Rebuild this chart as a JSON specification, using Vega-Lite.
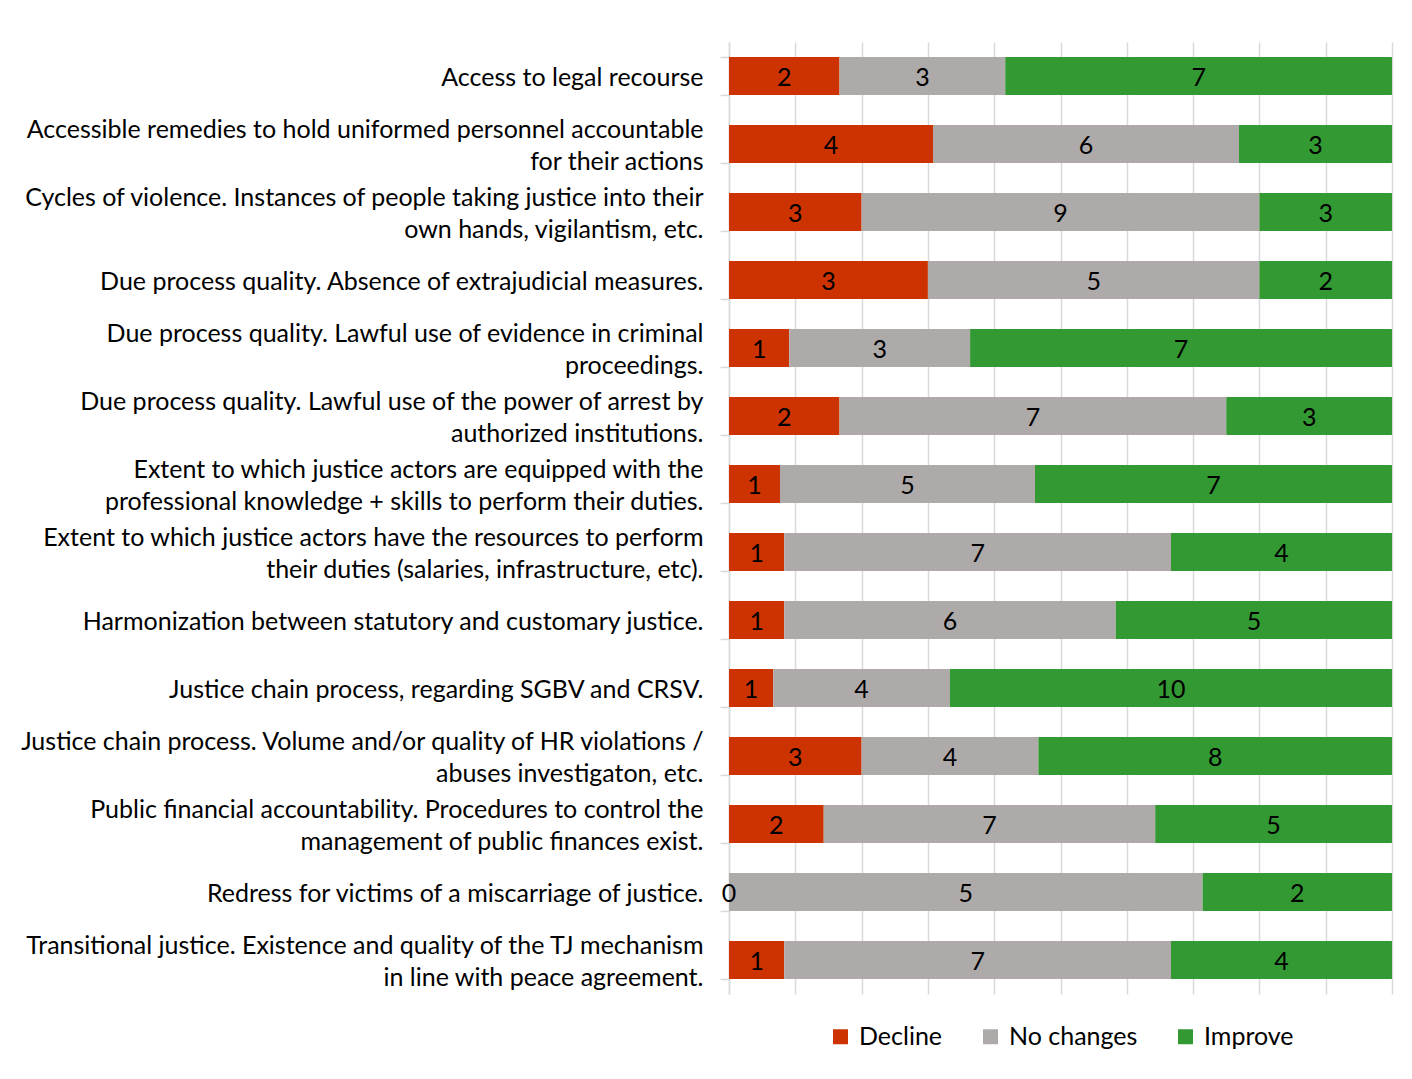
{
  "$schema": "https://vega.github.io/schema/vega-lite/v6.json",
  "width": 663,
  "height": 952,
  "autosize": {"type": "none"},
  "padding": {"left": 729, "top": 42, "right": 20, "bottom": 85},
  "background": "white",
  "datasets": {
    "statusOrder": [
      {"status": "Decline", "rank": 1},
      {"status": "No changes", "rank": 2},
      {"status": "Improve", "rank": 3}
    ],
    "responses": [
      {"category": "Access to legal recourse", "status": "Decline", "count": 2},
      {"category": "Access to legal recourse", "status": "No changes", "count": 3},
      {"category": "Access to legal recourse", "status": "Improve", "count": 7},
      {"category": "Accessible remedies to hold uniformed personnel accountable|for their actions", "status": "Decline", "count": 4},
      {"category": "Accessible remedies to hold uniformed personnel accountable|for their actions", "status": "No changes", "count": 6},
      {"category": "Accessible remedies to hold uniformed personnel accountable|for their actions", "status": "Improve", "count": 3},
      {"category": "Cycles of violence. Instances of people taking justice into their|own hands, vigilantism, etc.", "status": "Decline", "count": 3},
      {"category": "Cycles of violence. Instances of people taking justice into their|own hands, vigilantism, etc.", "status": "No changes", "count": 9},
      {"category": "Cycles of violence. Instances of people taking justice into their|own hands, vigilantism, etc.", "status": "Improve", "count": 3},
      {"category": "Due process quality. Absence of extrajudicial measures.", "status": "Decline", "count": 3},
      {"category": "Due process quality. Absence of extrajudicial measures.", "status": "No changes", "count": 5},
      {"category": "Due process quality. Absence of extrajudicial measures.", "status": "Improve", "count": 2},
      {"category": "Due process quality. Lawful use of evidence in criminal|proceedings.", "status": "Decline", "count": 1},
      {"category": "Due process quality. Lawful use of evidence in criminal|proceedings.", "status": "No changes", "count": 3},
      {"category": "Due process quality. Lawful use of evidence in criminal|proceedings.", "status": "Improve", "count": 7},
      {"category": "Due process quality. Lawful use of the power of arrest by|authorized institutions.", "status": "Decline", "count": 2},
      {"category": "Due process quality. Lawful use of the power of arrest by|authorized institutions.", "status": "No changes", "count": 7},
      {"category": "Due process quality. Lawful use of the power of arrest by|authorized institutions.", "status": "Improve", "count": 3},
      {"category": "Extent to which justice actors are equipped with the|professional knowledge + skills to perform their duties.", "status": "Decline", "count": 1},
      {"category": "Extent to which justice actors are equipped with the|professional knowledge + skills to perform their duties.", "status": "No changes", "count": 5},
      {"category": "Extent to which justice actors are equipped with the|professional knowledge + skills to perform their duties.", "status": "Improve", "count": 7},
      {"category": "Extent to which justice actors have the resources to perform|their duties (salaries, infrastructure, etc).", "status": "Decline", "count": 1},
      {"category": "Extent to which justice actors have the resources to perform|their duties (salaries, infrastructure, etc).", "status": "No changes", "count": 7},
      {"category": "Extent to which justice actors have the resources to perform|their duties (salaries, infrastructure, etc).", "status": "Improve", "count": 4},
      {"category": "Harmonization between statutory and customary justice.", "status": "Decline", "count": 1},
      {"category": "Harmonization between statutory and customary justice.", "status": "No changes", "count": 6},
      {"category": "Harmonization between statutory and customary justice.", "status": "Improve", "count": 5},
      {"category": "Justice chain process, regarding SGBV and CRSV.", "status": "Decline", "count": 1},
      {"category": "Justice chain process, regarding SGBV and CRSV.", "status": "No changes", "count": 4},
      {"category": "Justice chain process, regarding SGBV and CRSV.", "status": "Improve", "count": 10},
      {"category": "Justice chain process. Volume and/or quality of HR violations /|abuses investigaton, etc.", "status": "Decline", "count": 3},
      {"category": "Justice chain process. Volume and/or quality of HR violations /|abuses investigaton, etc.", "status": "No changes", "count": 4},
      {"category": "Justice chain process. Volume and/or quality of HR violations /|abuses investigaton, etc.", "status": "Improve", "count": 8},
      {"category": "Public financial accountability. Procedures to control the|management of public finances exist.", "status": "Decline", "count": 2},
      {"category": "Public financial accountability. Procedures to control the|management of public finances exist.", "status": "No changes", "count": 7},
      {"category": "Public financial accountability. Procedures to control the|management of public finances exist.", "status": "Improve", "count": 5},
      {"category": "Redress for victims of a miscarriage of justice.", "status": "Decline", "count": 0},
      {"category": "Redress for victims of a miscarriage of justice.", "status": "No changes", "count": 5},
      {"category": "Redress for victims of a miscarriage of justice.", "status": "Improve", "count": 2},
      {"category": "Transitional justice. Existence and quality of the TJ mechanism|in line with peace agreement.", "status": "Decline", "count": 1},
      {"category": "Transitional justice. Existence and quality of the TJ mechanism|in line with peace agreement.", "status": "No changes", "count": 7},
      {"category": "Transitional justice. Existence and quality of the TJ mechanism|in line with peace agreement.", "status": "Improve", "count": 4}
    ]
  },
  "data": {"name": "responses"},
  "transform": [
    {"lookup": "status", "from": {"data": {"name": "statusOrder"}, "key": "status", "fields": ["rank"]}}
  ],
  "encoding": {
    "y": {
      "field": "category",
      "type": "nominal",
      "sort": null,
      "scale": {"paddingInner": 0.44, "paddingOuter": 0.22},
      "axis": {
        "title": null,
        "domain": true,
        "domainColor": "#d9d9d9",
        "domainWidth": 1.5,
        "ticks": true,
        "tickBand": "extent",
        "tickSize": 9,
        "tickColor": "#d9d9d9",
        "tickWidth": 1.5,
        "labelPadding": 17,
        "labelFont": "Lato",
        "labelFontSize": 25,
        "labelColor": "#000000",
        "labelLimit": 900,
        "labelLineHeight": 32,
        "labelAlign": "right",
        "labelBaseline": "middle",
        "labelOffset": {"condition": {"test": "indexof(datum.label, '|') >= 0", "value": -15}, "value": 1},
        "labelExpr": "split(datum.label, '|')",
        "grid": false
      }
    },
    "order": {"field": "rank", "type": "quantitative"}
  },
  "layer": [
    {
      "mark": {"type": "bar"},
      "encoding": {
        "x": {
          "field": "count",
          "type": "quantitative",
          "stack": "normalize",
          "scale": {"domain": [0, 1]},
          "axis": {
            "title": null,
            "labels": false,
            "ticks": false,
            "domain": false,
            "grid": true,
            "gridColor": "#d9d9d9",
            "gridWidth": 1.5,
            "values": [0, 0.1, 0.2, 0.3, 0.4, 0.5, 0.6, 0.7, 0.8, 0.9, 1]
          }
        },
        "color": {
          "field": "status",
          "type": "nominal",
          "sort": ["Decline", "No changes", "Improve"],
          "scale": {"domain": ["Decline", "No changes", "Improve"], "range": ["#CC3300", "#AEAAAA", "#339933"]},
          "legend": {
            "title": null,
            "orient": "none",
            "legendX": 99,
            "legendY": 982,
            "direction": "horizontal",
            "symbolType": "square",
            "symbolSize": 225,
            "symbolStrokeWidth": 0,
            "labelFont": "Lato",
            "labelFontSize": 25,
            "labelColor": "#000000",
            "labelOffset": 6,
            "columnPadding": 35
          }
        }
      }
    },
    {
      "mark": {"type": "text", "font": "Lato", "fontSize": 25, "baseline": "middle", "align": "center", "color": "#000000", "dy": 2},
      "encoding": {
        "x": {"field": "count", "type": "quantitative", "stack": "normalize", "bandPosition": 0.5},
        "detail": {"field": "status", "type": "nominal"},
        "text": {"field": "count", "type": "quantitative"}
      }
    }
  ],
  "config": {"view": {"stroke": null}}
}
